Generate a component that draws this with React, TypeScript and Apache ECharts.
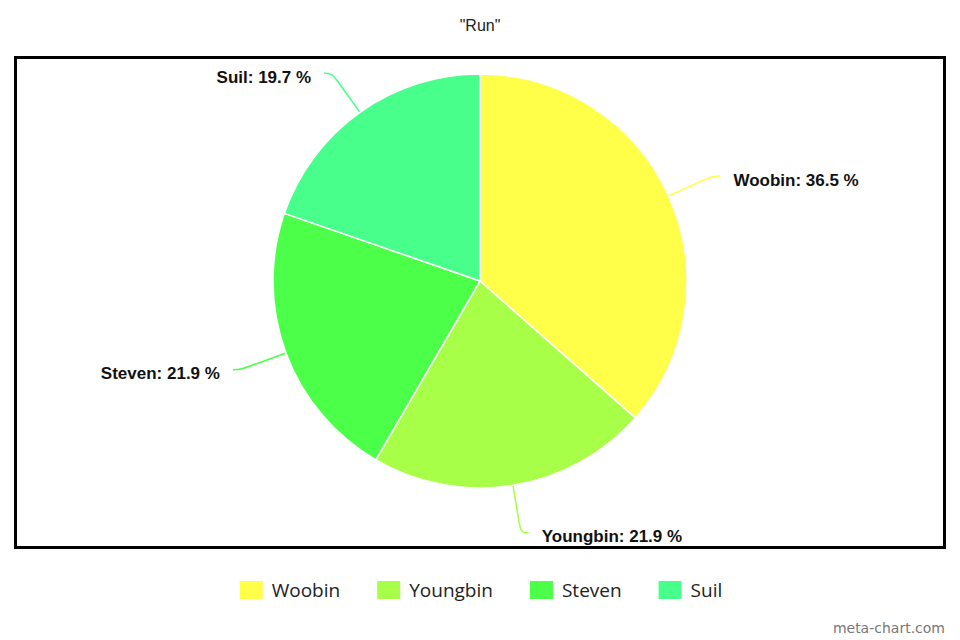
import React, { useEffect, useRef } from "react";
import * as echarts from "echarts";

const titleText = '"Run"';
const categories = ["Woobin", "Youngbin", "Steven", "Suil"];
const values = [36.5, 21.9, 21.9, 19.7];
const colors = ["#ffff4a", "#a8ff48", "#4cff48", "#48ff8c"];

export default function App() {
  const ref = useRef<HTMLDivElement>(null);
  useEffect(() => {
    if (!ref.current) return;
    const chart = echarts.init(ref.current, null, { renderer: "svg" });
    const data = categories.map((name, i) => ({
      name,
      value: values[i],
      itemStyle: { color: colors[i] },
    }));
    chart.setOption({
      animation: false,
      backgroundColor: "#ffffff",
      title: {
        text: titleText,
        left: "center",
        top: 12,
        textStyle: {
          fontSize: 16,
          fontWeight: "normal",
          color: "#222",
          fontFamily: "Liberation Sans, Arial, sans-serif",
        },
      },
      legend: {
        data: categories,
        top: 574,
        left: "center",
        icon: "rect",
        itemWidth: 25,
        itemHeight: 20,
        itemGap: 35,
        selectedMode: false,
        textStyle: {
          fontSize: 19,
          color: "#222",
          fontFamily: "Open Sans, sans-serif",
          padding: [0, 0, 0, 3],
        },
      },
      graphic: [
        {
          type: "rect",
          shape: { x: 15.5, y: 57.5, width: 929, height: 490 },
          style: { fill: "none", stroke: "#000", lineWidth: 3 },
          silent: true,
        },
        {
          type: "text",
          right: 15,
          bottom: 5,
          style: {
            text: "meta-chart.com",
            fill: "#777",
            fontSize: 14,
            fontFamily: "DejaVu Sans, sans-serif",
          },
        },
      ],
      series: [
        {
          type: "pie",
          center: [480, 281],
          radius: 207,
          startAngle: 90,
          clockwise: true,
          percentPrecision: 1,
          data,
          itemStyle: { borderColor: "#ffffff", borderWidth: 1.5 },
          label: {
            show: true,
            formatter: "{s|}\n{t|{b}: {d} %}",
            distanceToLabelLine: 13,
            rich: {
              s: { lineHeight: 8, fontSize: 8 },
              t: {
                color: "#111",
                fontSize: 17,
                lineHeight: 20,
                fontWeight: "bold",
                fontFamily: "Liberation Sans, Arial, sans-serif",
              },
            },
          },
          labelLine: {
            show: true,
            length: 48,
            length2: 8,
            smooth: 0.4,
            lineStyle: { width: 1.5 },
          },
          emphasis: { disabled: true },
        },
      ],
    });
    return () => chart.dispose();
  }, []);
  return (
    <div
      ref={ref}
      style={{ position: "fixed", left: 0, top: 0, width: 960, height: 640 }}
    />
  );
}
